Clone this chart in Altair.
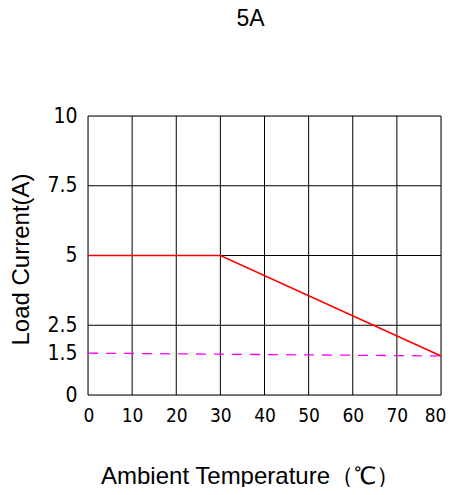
import altair as alt
import pandas as pd

temps_red = [0, 30, 80]
current_red = [5, 5, 1.4]
temps_mag = [0, 80]
current_mag = [1.5, 1.4]
x_ticks = [0, 10, 20, 30, 40, 50, 60, 70, 80]
y_ticks = [0, 1.5, 2.5, 5, 7.5, 10]
y_grid = [0, 2.5, 5, 7.5, 10]
# horizontal grid spans (the 5 A row left of 30 ℃ is covered by the red curve)
y_grid_from = [0, 0, 30, 0, 0]
y_grid_to = [80, 80, 80, 80, 80]

red = pd.DataFrame({"temp": temps_red, "cur": current_red})
mag = pd.DataFrame({"temp": temps_mag, "cur": current_mag})
vg = pd.DataFrame({"gx": x_ticks})
hg = pd.DataFrame({"gy": y_grid, "x0": y_grid_from, "x1": y_grid_to})

NUM_FONT = "DejaVu Sans Condensed"
TXT_FONT = "Liberation Sans"

xs = alt.Scale(domain=[0, 80], nice=False, zero=False)
ys = alt.Scale(domain=[0, 10], nice=False, zero=False)

xaxis = alt.Axis(values=x_ticks, grid=False, ticks=False, domain=False,
                 labelFont=NUM_FONT, labelFontSize=19, labelColor="black",
                 labelPadding=11, labelFlush=True, labelFlushOffset=5,
                 labelExpr="datum.value + ''",
                 title="Ambient Temperature（℃）",
                 titleFont=TXT_FONT, titleFontSize=24, titleFontWeight="normal",
                 titleColor="black", titleX=162, titleY=88,
                 titleAlign="center", titleBaseline="alphabetic")
yaxis = alt.Axis(values=y_ticks, grid=False, ticks=False, domain=False,
                 labelFont=NUM_FONT, labelFontSize=21, labelColor="black",
                 labelPadding=11, labelFlush=False,
                 labelExpr="datum.value + ''",
                 title="Load Current(A)",
                 titleFont=TXT_FONT, titleFontSize=24, titleFontWeight="normal",
                 titleColor="black", titleX=-67, titleY=143, titleAngle=270,
                 titleAlign="center", titleBaseline="middle")

vlines = alt.Chart(vg).mark_rule(color="black", strokeWidth=1).encode(
    x=alt.X("gx:Q", scale=xs, axis=xaxis))
hlines = alt.Chart(hg).mark_rule(color="black", strokeWidth=1).encode(
    y=alt.Y("gy:Q", scale=ys, axis=yaxis),
    x=alt.X("x0:Q", scale=xs), x2="x1:Q")
mag_line = alt.Chart(mag).mark_line(color="#ff00ff", strokeWidth=1.3, strokeDash=[10, 8]).encode(
    x=alt.X("temp:Q", scale=xs), y=alt.Y("cur:Q", scale=ys), order=alt.Order("temp:Q"))
red_line = alt.Chart(red).mark_line(color="#ff0000", strokeWidth=1.6).encode(
    x=alt.X("temp:Q", scale=xs), y=alt.Y("cur:Q", scale=ys), order=alt.Order("temp:Q"))

chart = alt.layer(vlines, hlines, mag_line, red_line).properties(
    width=353, height=279,
    title=alt.TitleParams("5A", font=TXT_FONT, fontSize=23, fontWeight="normal",
                          color="black", anchor="middle", dx=-14, offset=74),
    autosize=alt.AutoSizeParams(type="none"),
    padding={"left": 80, "top": 108, "right": 5, "bottom": 92},
).configure_view(stroke=None).configure(background="white")

chart.save("out.html", embed_options={"renderer": "svg", "actions": False})
